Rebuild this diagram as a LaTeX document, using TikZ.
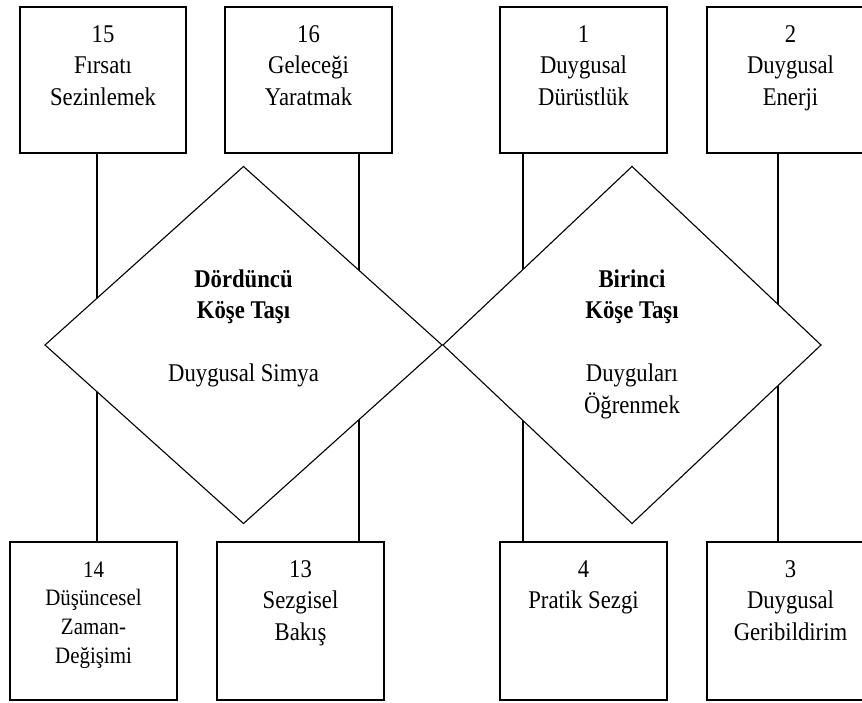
\documentclass[tikz,border=0pt]{standalone}
\usepackage{fontspec}
\setmainfont{Liberation Serif}[FakeStretch=0.89]
\usetikzlibrary{shapes.geometric}
\newcommand{\topstrut}{\rule{0pt}{20pt}}
\tikzset{
  boxnode/.style={draw, line width=1.1pt, rectangle, inner sep=0pt, outer sep=0pt, minimum width=167pt},
  topbox/.style={boxnode, minimum height=146pt},
  botbox/.style={boxnode, minimum height=158pt},
  stone/.style={draw, line width=1.1pt, diamond, fill=white, inner sep=0pt, outer sep=0pt, minimum height=357pt},
  conn/.style={line width=1.1pt},
  lbl/.style={anchor=north, inner sep=0pt, align=center, font=\fontsize{25.5}{31.5}\selectfont}
}
\begin{document}
\begin{tikzpicture}[x=1pt,y=1pt]
\useasboundingbox (0,0) rectangle (862,702);
% top boxes
\node[topbox, minimum width=166pt] (b15) at (103,622) {};
\node[topbox] (b16) at (308.5,622) {};
\node[topbox] (b1) at (583.5,622) {};
\node[topbox] (b2) at (790.5,622) {};
% bottom boxes
\node[botbox] (b14) at (93.5,81) {};
\node[botbox] (b13) at (300.5,81) {};
\node[botbox] (b4) at (583.5,81) {};
\node[botbox] (b3) at (790.5,81) {};
% connector x positions
\coordinate (x1) at (97,0);
\coordinate (x2) at (359,0);
\coordinate (x3) at (523,0);
\coordinate (x4) at (778,0);
\draw[conn] (b15.south -| x1) -- (b14.north -| x1);
\draw[conn] (b16.south -| x2) -- (b13.north -| x2);
\draw[conn] (b1.south -| x3) -- (b4.north -| x3);
\draw[conn] (b2.south -| x4) -- (b3.north -| x4);
% diamonds
\node[stone, minimum width=397pt] (d4) at (243.5,357) {};
\node[stone, minimum width=378pt] (d1) at (632,357) {};
% box texts
\node[lbl] (t15) at ([yshift=-15pt]b15.north) {\topstrut 15\\Fırsatı\\Sezinlemek};
\node[lbl] (t16) at ([yshift=-15pt]b16.north) {\topstrut 16\\Geleceği\\Yaratmak};
\node[lbl] (t1) at ([yshift=-15pt]b1.north) {\topstrut 1\\Duygusal\\Dürüstlük};
\node[lbl] (t2) at ([yshift=-15pt]b2.north) {\topstrut 2\\Duygusal\\Enerji};
\node[lbl, font=\fontsize{23.5}{28.7}\selectfont] (t14) at ([yshift=-15pt]b14.north) {\topstrut 14\\Düşüncesel\\Zaman-\\Değişimi};
\node[lbl] (t13) at ([yshift=-15pt]b13.north) {\topstrut 13\\Sezgisel\\Bakış};
\node[lbl] (t4) at ([yshift=-15pt]b4.north) {\topstrut 4\\Pratik Sezgi};
\node[lbl] (t3) at ([yshift=-15pt]b3.north) {\topstrut 3\\Duygusal\\Geribildirim};
% diamond texts
\node[lbl] (td4) at ([yshift=78pt]d4.center) {\topstrut\textbf{Dördüncü}\\\textbf{Köşe Taşı}\\[31.5pt]Duygusal Simya};
\node[lbl] (td1) at ([yshift=78pt]d1.center) {\topstrut\textbf{Birinci}\\\textbf{Köşe Taşı}\\[31.5pt]Duyguları\\Öğrenmek};
\end{tikzpicture}
\end{document}
